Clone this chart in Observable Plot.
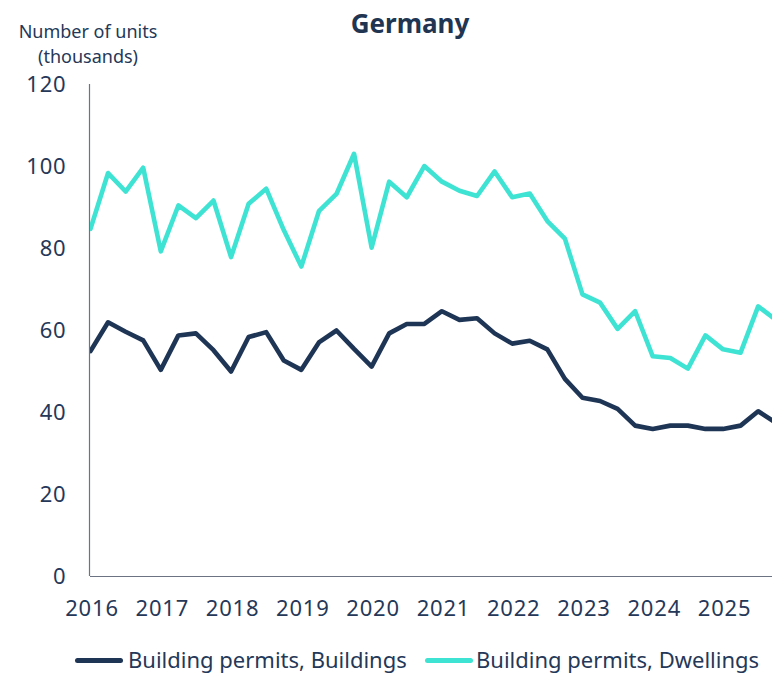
<!DOCTYPE html>
<html><head><meta charset="utf-8">
<script src="https://cdn.jsdelivr.net/npm/d3@7"></script>
<script src="https://cdn.jsdelivr.net/npm/@observablehq/plot@0.6"></script>
<style>
html,body{margin:0;padding:0;background:#fff;overflow:hidden;}
#wrap{position:relative;width:772px;height:675px;font-family:"Noto Sans",sans-serif;color:#253858;}
#chart{position:absolute;left:0;top:0;}
#title{position:absolute;left:310px;width:200px;top:5px;text-align:center;font-weight:700;font-size:26px;color:#1f3552;}
#ylabel{position:absolute;left:8px;width:160px;top:19px;text-align:center;font-size:18px;line-height:25px;}
.sw{position:absolute;height:5px;width:48px;border-radius:2.5px;top:657.5px;}
.lt{position:absolute;top:646px;font-size:22px;line-height:27px;white-space:nowrap;}
</style>
</head><body>
<div id="wrap">
  <div id="chart"></div>
  <div id="title"></div>
  <div id="ylabel"></div>
  <div id="legend"></div>
</div>
<script>
const title = "Germany";
const yLabelLines = ["Number of units", "(thousands)"];
const seriesNames = ["Building permits, Buildings", "Building permits, Dwellings"];
const seriesColors = ["#1e3556", "#3ee3d3"];
const startYear = 2016;
const yearTicks = [2016, 2017, 2018, 2019, 2020, 2021, 2022, 2023, 2024, 2025];
const yTicks = [0, 20, 40, 60, 80, 100, 120];
// quarterly values, 2016 Q1 .. 2025 Q4
const buildings = [55.0, 62.0, 59.7, 57.6, 50.4, 58.8, 59.3, 55.2, 50.0, 58.4,
  59.6, 52.7, 50.4, 57.1, 60.0, 55.5, 51.2, 59.3, 61.6, 61.6,
  64.7, 62.6, 63.0, 59.3, 56.8, 57.5, 55.4, 48.2, 43.6, 42.8,
  40.9, 36.8, 36.0, 36.8, 36.8, 36.0, 36.0, 36.8, 40.3, 37.5];
const dwellings = [84.8, 98.4, 93.9, 99.7, 79.3, 90.5, 87.4, 91.7, 77.9, 90.9,
  94.6, 84.5, 75.6, 89.1, 93.3, 103.1, 80.2, 96.3, 92.5, 100.1,
  96.3, 94.1, 92.8, 98.8, 92.5, 93.4, 86.7, 82.4, 68.8, 66.8,
  60.4, 64.7, 53.7, 53.3, 50.7, 58.8, 55.4, 54.6, 65.9, 62.6];

const rows = [];
[buildings, dwellings].forEach((arr, s) => arr.forEach((v, i) =>
  rows.push({t: startYear + i / 4, v, series: seriesNames[s]})));

const chart = Plot.plot({
  width: 772, height: 640,
  marginLeft: 90, marginRight: 0, marginTop: 84, marginBottom: 64,
  style: {fontFamily: "'Noto Sans', sans-serif", fontSize: "22px", letterSpacing: "0.8px", color: "#253858", background: "transparent", overflow: "hidden"},
  x: {domain: [2016, 2016 + 682 / 70.28], label: null},
  y: {domain: [0, 120], label: null},
  color: {domain: seriesNames, range: seriesColors},
  marks: [
    Plot.axisX(yearTicks, {tickSize: 0, tickPadding: 24, tickFormat: d => String(d), dx: 1.5, label: null}),
    Plot.axisY(yTicks, {tickSize: 0, tickPadding: 24, label: null}),
    Plot.ruleY([0], {stroke: "#6c7483", strokeWidth: 1.2, strokeOpacity: 1}),
    Plot.ruleX([2016], {y1: 0, y2: 120, dx: -1, stroke: "#6c7483", strokeWidth: 1.2, strokeOpacity: 1}),
    Plot.line(rows, {x: "t", y: "v", z: "series", stroke: "series", strokeWidth: 4.6, clip: true})
  ]
});
document.getElementById("chart").appendChild(chart);
document.getElementById("title").textContent = title;
document.getElementById("ylabel").innerHTML = yLabelLines.map(s => `<div>${s}</div>`).join("");
const legend = document.getElementById("legend");
const swLeft = [75, 425], txLeft = [128, 476];
seriesNames.forEach((n, i) => {
  const sw = document.createElement("div");
  sw.className = "sw"; sw.style.left = swLeft[i] + "px"; sw.style.background = seriesColors[i];
  const tx = document.createElement("div");
  tx.className = "lt"; tx.style.left = txLeft[i] + "px"; tx.textContent = n;
  legend.appendChild(sw); legend.appendChild(tx);
});
</script>
</body></html>
